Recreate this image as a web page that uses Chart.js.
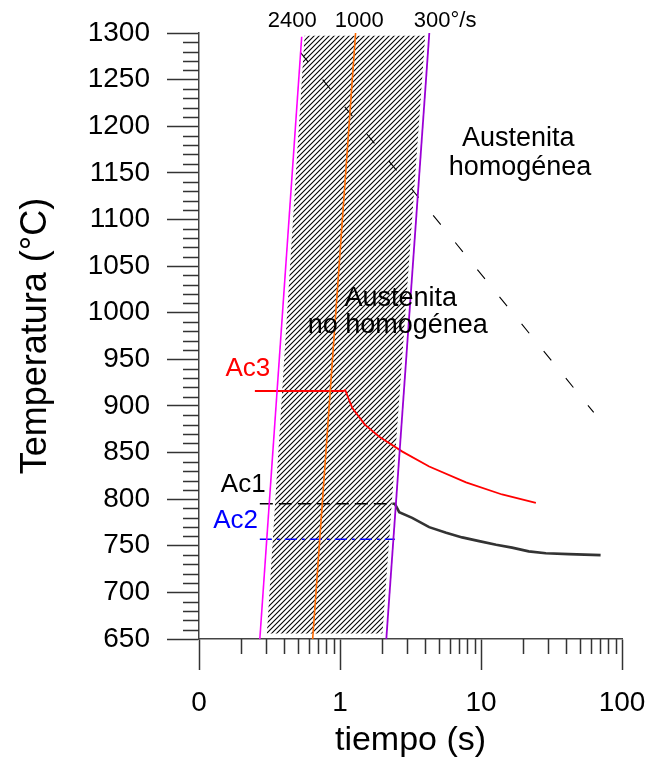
<!DOCTYPE html>
<html>
<head>
<meta charset="utf-8">
<script src="https://cdn.jsdelivr.net/npm/chart.js@4.4.1/dist/chart.umd.min.js"></script>
<style>
  body { margin: 0; background: #fff; }
  canvas { display: block; }
</style>
</head>
<body>
<canvas id="chart" width="648" height="758"></canvas>
<script>
// axis ticks
const yMin = 650, yMax = 1300;
const xMajorTicks = [0.1, 1, 10, 100];
const xTickLabels = ['0', '1', '10', '100'];
const xMinorSteps = [2, 3, 4, 5, 6, 7, 8, 9];

// heating rate lines, time (s) vs temperature (°C)
const rate2400Time = [0.27, 0.535];
const rate2400Temp = [650, 1296];
const rate1000Time = [0.64, 1.29];
const rate1000Temp = [650, 1300];
const rate300Time = [2.13, 4.3];
const rate300Temp = [650, 1300];

// hatched zone (non homogeneous austenite)
const zoneTime = [0.303, 0.561, 4.02, 2.0];
const zoneTemp = [656, 1297, 1297, 656];

// homogenisation limit (dashed)
const homogTime = [0.525, 63];
const homogTemp = [1279, 893];

// Ac3
const ac3Time = [0.249, 1.05, 1.09, 1.22, 1.50, 1.90, 2.77, 4.29, 7.83, 14.1, 24.5];
const ac3Temp = [916, 916, 917, 898, 880, 867, 851, 835, 818, 805, 796];

// Ac1: equilibrium part (dashed) and curve
const ac1Time = [0.27, 2.35];
const ac1Temp = [795, 795];
const ac1CurveTime = [2.35, 2.45, 2.63, 3.25, 4.29, 5.66, 7.35, 9.7, 12.8, 16.6, 21.8, 28.8, 41.9, 70.5];
const ac1CurveTemp = [795, 795, 786, 780, 770, 764, 759, 755, 751, 748, 744, 742, 741, 740];

// Ac2
const ac2Time = [0.27, 2.45];
const ac2Temp = [757, 757];

// text on the plot, placed in data units
const notes = [
  { text: '2400', t: 0.458, temp: 1313, color: '#000', size: 22 },
  { text: '1000', t: 1.37, temp: 1313, color: '#000', size: 22 },
  { text: '300°/s', t: 5.57, temp: 1313, color: '#000', size: 22 },
  { text: 'Austenita', t: 18.4, temp: 1187, color: '#000', size: 27 },
  { text: 'homogénea', t: 18.9, temp: 1156, color: '#000', size: 27 },
  { text: 'Austenita', t: 2.70, temp: 1015, color: '#000', size: 27 },
  { text: 'no homogénea', t: 2.57, temp: 986, color: '#000', size: 27 },
  { text: 'Ac3', t: 0.222, temp: 940, color: '#ff0000', size: 26 },
  { text: 'Ac1', t: 0.206, temp: 815, color: '#000', size: 26 },
  { text: 'Ac2', t: 0.182, temp: 777, color: '#0000ff', size: 26 }
];

const FONT = '"Liberation Sans", Arial, sans-serif';

function pts(ts, temps) {
  return ts.map((t, i) => ({ x: t, y: temps[i] }));
}

function isDecade(v) {
  const l = Math.log10(v);
  return Math.abs(l - Math.round(l)) < 1e-6;
}

// diagonal hatch pattern
function hatch() {
  const s = 5;
  const tile = document.createElement('canvas');
  tile.width = s; tile.height = s;
  const c = tile.getContext('2d');
  c.strokeStyle = '#000';
  c.lineWidth = 1.1;
  c.beginPath();
  c.moveTo(0, s); c.lineTo(s, 0);
  c.moveTo(-1, 1); c.lineTo(1, -1);
  c.moveTo(s - 1, s + 1); c.lineTo(s + 1, s - 1);
  c.stroke();
  return c.createPattern(tile, 'repeat');
}

// short minor ticks outside the axes
const minorTicks = {
  id: 'minorTicks',
  afterDraw(chart) {
    const ctx = chart.ctx;
    const xs = chart.scales.x, ys = chart.scales.y;
    ctx.save();
    ctx.strokeStyle = '#333';
    ctx.lineWidth = 1.5;
    ctx.beginPath();
    ys.ticks.forEach(tk => {
      if (tk.value % 50 === 0) return;
      const y = Math.round(ys.getPixelForValue(tk.value)) + 0.5;
      ctx.moveTo(ys.right - 16, y);
      ctx.lineTo(ys.right, y);
    });
    xs.ticks.forEach(tk => {
      if (isDecade(tk.value)) return;
      const x = Math.round(xs.getPixelForValue(tk.value)) + 0.5;
      ctx.moveTo(x, xs.top);
      ctx.lineTo(x, xs.top + 15);
    });
    ctx.stroke();
    ctx.restore();
  }
};

const noteLabels = {
  id: 'noteLabels',
  afterDatasetsDraw(chart) {
    const ctx = chart.ctx;
    const xs = chart.scales.x, ys = chart.scales.y;
    ctx.save();
    ctx.textAlign = 'center';
    ctx.textBaseline = 'middle';
    notes.forEach(n => {
      ctx.font = n.size + 'px ' + FONT;
      ctx.fillStyle = n.color;
      ctx.fillText(n.text, xs.getPixelForValue(n.t), ys.getPixelForValue(n.temp));
    });
    ctx.restore();
  }
};

const line = (data, color, width, dash) => ({
  data,
  borderColor: color,
  borderWidth: width,
  borderDash: dash || [],
  pointRadius: 0,
  fill: false,
  order: 1
});

new Chart(document.getElementById('chart'), {
  type: 'line',
  data: {
    datasets: [
      line(pts(rate2400Time, rate2400Temp), '#ff00ff', 1.6),
      line(pts(rate1000Time, rate1000Temp), '#ff6a00', 1.6),
      line(pts(rate300Time, rate300Temp), '#9b00d6', 1.8),
      line(pts(ac3Time, ac3Temp), '#ff0000', 1.8),
      line(pts(ac1Time, ac1Temp), '#000000', 1.4, [13, 6]),
      line(pts(ac1CurveTime, ac1CurveTemp), '#333333', 2.6),
      line(pts(ac2Time, ac2Temp), '#0000ff', 1.4, [12, 5, 3, 5]),
      line(pts(homogTime, homogTemp), '#000000', 1.1, [12, 23]),
      {
        data: pts(zoneTime, zoneTemp),
        borderWidth: 0,
        borderColor: 'rgba(0,0,0,0)',
        backgroundColor: hatch(),
        pointRadius: 0,
        fill: 'shape',
        order: 5
      }
    ]
  },
  options: {
    responsive: false,
    animation: false,
    devicePixelRatio: 1,
    layout: { padding: { top: 33, right: 26, left: 0, bottom: 0 } },
    plugins: { legend: { display: false }, tooltip: { enabled: false } },
    scales: {
      x: {
        type: 'logarithmic',
        min: 0.1,
        max: 100,
        afterBuildTicks(scale) {
          const ticks = [];
          xMajorTicks.forEach((m, i) => {
            ticks.push({ value: m });
            if (i < xMajorTicks.length - 1) xMinorSteps.forEach(k => ticks.push({ value: m * k }));
          });
          scale.ticks = ticks;
        },
        afterFit(scale) {
          scale.height = 758 - 639;
          scale.paddingLeft = 0;
          scale.paddingRight = 0;
        },
        border: { color: '#444', width: 1.5 },
        grid: {
          drawOnChartArea: false,
          tickLength: 31,
          tickWidth: 1.5,
          tickColor: c => (c.tick && isDecade(c.tick.value)) ? '#333' : 'rgba(0,0,0,0)'
        },
        ticks: {
          autoSkip: false,
          maxRotation: 0,
          padding: 16,
          color: '#000',
          font: { family: FONT, size: 28 },
          callback: v => {
            const i = xMajorTicks.findIndex(m => Math.abs(Math.log10(m) - Math.log10(v)) < 1e-6);
            return i >= 0 ? xTickLabels[i] : '';
          }
        },
        title: {
          display: true,
          text: 'tiempo (s)',
          color: '#000',
          font: { family: FONT, size: 34, lineHeight: 1 },
          padding: { top: 0, bottom: 0 }
        }
      },
      y: {
        min: yMin,
        max: yMax,
        afterFit(scale) {
          scale.width = 199;
          scale.paddingTop = 0;
          scale.paddingBottom = 0;
        },
        border: { color: '#444', width: 1.5 },
        grid: {
          drawOnChartArea: false,
          tickLength: 32,
          tickWidth: 1.5,
          tickColor: c => (c.tick && c.tick.value % 50 === 0) ? '#333' : 'rgba(0,0,0,0)'
        },
        ticks: {
          stepSize: 10,
          autoSkip: false,
          padding: 17,
          color: '#000',
          font: { family: FONT, size: 28 },
          callback: v => (v % 50 === 0 ? String(v) : '')
        },
        title: {
          display: true,
          text: 'Temperatura (°C)',
          color: '#000',
          font: { family: FONT, size: 36, lineHeight: 1 },
          padding: { top: 18, bottom: 0 }
        }
      }
    }
  },
  plugins: [minorTicks, noteLabels]
});
</script>
</body>
</html>
